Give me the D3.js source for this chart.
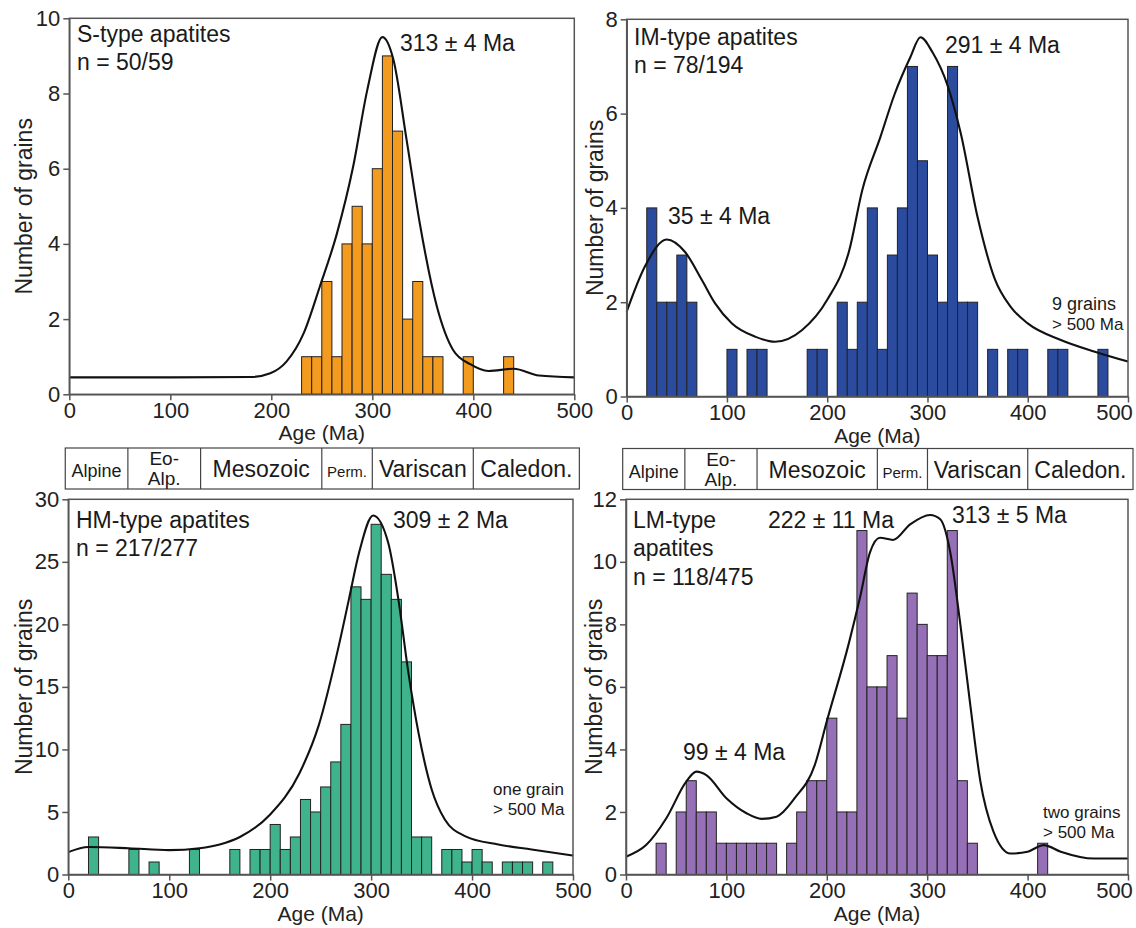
<!DOCTYPE html>
<meta charset="utf-8">
<style>
  body { margin: 0; background: #fff; }
  svg { font-family: "Liberation Sans", Arial, sans-serif; }
  .axis path, .axis line { stroke: #555; stroke-width: 1.5; }
  .axis text { fill: #222; font-size: 22px; font-family: "Liberation Sans", Arial, sans-serif; }
  .frame { fill: none; stroke: #555; stroke-width: 1.5; }
  .bars rect { stroke: #222; stroke-width: 1; }
  .kde { fill: none; stroke: #111; stroke-width: 2.1; }
  .periods rect { fill: none; stroke: #444; stroke-width: 1.2; }
  .periods line { stroke: #444; stroke-width: 1.2; }
</style>
<script src="https://cdn.jsdelivr.net/npm/d3@7/dist/d3.min.js"></script>
<body>
<script>

const width = 1136;
const height = 928;

// histogram bins (start of 10 Ma bin) and number of grains
const sBins   = [230, 240, 250, 260, 270, 280, 290, 300, 310, 320, 330, 340, 350, 360, 390, 430];
const sCounts = [1, 1, 3, 1, 4, 5, 4, 6, 9, 7, 2, 3, 1, 1, 1, 1];

const imBins   = [20, 30, 40, 50, 60, 100, 120, 130, 180, 190, 210, 220, 230, 240, 250, 260, 270, 280, 290, 300, 310, 320, 330, 340, 360, 380, 390, 420, 430, 470];
const imCounts = [4, 2, 2, 3, 2, 1, 1, 1, 1, 1, 2, 1, 2, 4, 1, 3, 4, 7, 5, 3, 2, 7, 2, 2, 1, 1, 1, 1, 1, 1];

const hmBins   = [20, 60, 80, 120, 160, 180, 190, 200, 210, 220, 230, 240, 250, 260, 270, 280, 290, 300, 310, 320, 330, 340, 350, 370, 380, 390, 400, 410, 430, 440, 450, 470];
const hmCounts = [3, 2, 1, 2, 2, 2, 2, 4, 2, 3, 6, 5, 7, 9, 12, 23, 22, 28, 24, 22, 17, 3, 3, 2, 2, 1, 2, 1, 1, 1, 1, 1];

const lmBins   = [30, 50, 60, 70, 80, 90, 100, 110, 120, 130, 140, 160, 170, 180, 190, 200, 210, 220, 230, 240, 250, 260, 270, 280, 290, 300, 310, 320, 330, 340, 410];
const lmCounts = [1, 2, 3, 2, 2, 1, 1, 1, 1, 1, 1, 1, 2, 3, 3, 5, 2, 2, 11, 6, 6, 7, 5, 9, 8, 7, 7, 11, 3, 1, 1];

// density curves: [age, grains]
const sCurve = [[0, 0.45], [100, 0.45], [180, 0.46], [199, 0.56], [215, 0.87], [232, 1.62], [248, 2.86], [265, 4.28],
  [281, 6.05], [295, 8.09], [310, 9.5], [321, 8.89], [334, 6.76], [347, 4.55], [364, 2.33], [380, 1.18], [397, 0.8],
  [415, 0.62], [440, 0.68], [465, 0.5], [500, 0.45]];

const imCurve = [[0, 1.8], [18, 2.75], [40, 3.33], [58, 3.07], [75, 2.47], [88, 1.98], [105, 1.55], [128, 1.27], [148, 1.16],
  [175, 1.41], [200, 2.05], [222, 3.1], [235, 4.38], [253, 5.5], [267, 6.4], [283, 7.2], [293, 7.62], [305, 7.3],
  [320, 6.6], [333, 5.6], [350, 3.8], [367, 2.5], [383, 1.9], [400, 1.55], [433, 1.2], [467, 0.95], [500, 0.74]];

const hmCurve = [[0, 1.79], [20, 2.2], [60, 2.1], [100, 1.95], [130, 2.1], [150, 2.4], [170, 3.0], [200, 4.8], [229, 8.1],
  [248, 11.9], [268, 18.3], [278, 22], [288, 25.7], [302, 28.7], [317, 26.5], [327, 22], [337, 16.1], [347, 11.3],
  [360, 6.8], [373, 4.4], [393, 3.07], [426, 2.4], [459, 2.0], [500, 1.52]];

const lmCurve = [[0, 0.57], [20, 0.94], [40, 1.79], [60, 2.97], [70, 3.29], [80, 3.18], [100, 2.44], [120, 1.96], [135, 1.78],
  [150, 1.85], [168, 2.44], [188, 3.5], [200, 4.9], [222, 7.4], [233, 8.85], [243, 10.3], [253, 10.77], [266, 10.7],
  [283, 11.2], [303, 11.5], [313, 11.36], [323, 10.3], [333, 8.0], [343, 5.4], [353, 2.97], [366, 1.37], [383, 0.67],
  [400, 0.73], [416, 0.94], [433, 0.73], [466, 0.51], [500, 0.51]];

const xTicks = [0, 100, 200, 300, 400, 500];

// orogenic periods, boundaries in Ma
const periodNames = ["Alpine", "Eo-Alp.", "Mesozoic", "Perm.", "Variscan", "Caledon."];
const periodEdges = [-4, 58, 130, 250, 300, 400, 505];

const panels = [
  { bins: sBins, counts: sCounts, curve: sCurve, color: "#F39B1E", yMax: 10, yStep: 2,
    left: 69.3, right: 574.3, top: 18.3, bottom: 394.3, ylabX: 26, periodsY: 448,
    texts: [
      { t: "S-type apatites", x: 77, y: 42, s: 23 },
      { t: "n = 50/59", x: 77, y: 70, s: 23 },
      { t: "313 \u00b1 4 Ma", x: 400, y: 51, s: 23 }
    ] },
  { bins: imBins, counts: imCounts, curve: imCurve, color: "#2B4C9E", yMax: 8, yStep: 2,
    left: 626.7, right: 1128, top: 19.3, bottom: 396.5, ylabX: 597, periodsY: 448.5, edgeShift: 14,
    texts: [
      { t: "IM-type apatites", x: 634, y: 45, s: 23 },
      { t: "n = 78/194", x: 634, y: 73, s: 23 },
      { t: "291 \u00b1 4 Ma", x: 945, y: 53, s: 23 },
      { t: "35 \u00b1 4 Ma", x: 668, y: 224, s: 23 },
      { t: "9 grains", x: 1052, y: 310, s: 18 },
      { t: "> 500 Ma", x: 1052, y: 330, s: 17 }
    ] },
  { bins: hmBins, counts: hmCounts, curve: hmCurve, color: "#3FB48C", yMax: 30, yStep: 5,
    left: 68.3, right: 573, top: 499.3, bottom: 874.5, ylabX: 26,
    texts: [
      { t: "HM-type apatites", x: 76, y: 528, s: 23 },
      { t: "n = 217/277", x: 76, y: 556, s: 23 },
      { t: "309 \u00b1 2 Ma", x: 393, y: 528, s: 23 },
      { t: "one grain", x: 493, y: 795, s: 17 },
      { t: "> 500 Ma", x: 493, y: 815, s: 17 }
    ] },
  { bins: lmBins, counts: lmCounts, curve: lmCurve, color: "#9670B6", yMax: 12, yStep: 2,
    left: 626, right: 1128, top: 499.3, bottom: 874.5, ylabX: 596, edgeShift: 14,
    texts: [
      { t: "LM-type", x: 633, y: 528, s: 23 },
      { t: "apatites", x: 633, y: 556, s: 23 },
      { t: "n = 118/475", x: 633, y: 585, s: 23 },
      { t: "222 \u00b1 11 Ma", x: 768, y: 528, s: 23 },
      { t: "313 \u00b1 5 Ma", x: 952, y: 523, s: 23 },
      { t: "99 \u00b1 4 Ma", x: 683, y: 760, s: 23 },
      { t: "two grains", x: 1043, y: 818, s: 17 },
      { t: "> 500 Ma", x: 1043, y: 838, s: 17 }
    ] }
];

const svg = d3.select("body")
              .append("svg")
              .attr("width", width)
              .attr("height", height);

panels.forEach(p => {
  const x = d3.scaleLinear().domain([0, 500]).range([p.left, p.right]);
  const y = d3.scaleLinear().domain([0, p.yMax]).range([p.bottom, p.top]);
  const g = svg.append("g");

  const bars = p.bins.map((b, i) => ({ start: b, count: p.counts[i] }));
  g.append("g")
   .attr("class", "bars")
   .selectAll("rect")
   .data(bars)
   .enter().append("rect")
   .attr("x", d => x(d.start))
   .attr("width", d => x(d.start + 10) - x(d.start))
   .attr("y", d => y(d.count))
   .attr("height", d => y(0) - y(d.count))
   .attr("fill", p.color);

  const line = d3.line()
                 .x(d => x(d[0]))
                 .y(d => y(d[1]))
                 .curve(d3.curveMonotoneX);
  g.append("path")
   .attr("class", "kde")
   .attr("d", line(p.curve));

  g.append("rect")
   .attr("class", "frame")
   .attr("x", p.left)
   .attr("y", p.top)
   .attr("width", p.right - p.left)
   .attr("height", p.bottom - p.top);

  g.append("g")
   .attr("class", "axis")
   .attr("transform", `translate(${p.left},0)`)
   .call(d3.axisLeft(y).tickValues(d3.range(0, p.yMax + 0.01, p.yStep)).tickSize(6).tickSizeOuter(0).tickPadding(3));

  const xAxis = g.append("g")
   .attr("class", "axis")
   .attr("transform", `translate(0,${p.bottom})`)
   .call(d3.axisBottom(x).tickValues(xTicks).tickSize(6).tickSizeOuter(0).tickPadding(2));
  // last label sits against the page edge on the right-hand panels
  if (p.edgeShift) {
    xAxis.selectAll(".tick text").filter(d => d === 500).attr("dx", -p.edgeShift);
  }

  g.append("text")
   .attr("transform", `translate(${p.ylabX},${(p.top + p.bottom) / 2}) rotate(-90)`)
   .attr("text-anchor", "middle")
   .attr("dominant-baseline", "middle")
   .style("font-size", "23px")
   .attr("fill", "#222")
   .text("Number of grains");

  g.append("text")
   .attr("x", (p.left + p.right) / 2)
   .attr("y", p.bottom + 46)
   .attr("text-anchor", "middle")
   .style("font-size", "21px")
   .attr("fill", "#222")
   .text("Age (Ma)");

  g.selectAll("text.note")
   .data(p.texts)
   .enter().append("text")
   .attr("class", "note")
   .attr("x", d => d.x)
   .attr("y", d => d.y)
   .style("font-size", d => d.s + "px")
   .attr("fill", "#1a1a1a")
   .text(d => d.t);

  if (p.periodsY !== undefined) {
    const pg = g.append("g").attr("class", "periods");
    const h = 41;
    pg.append("rect")
      .attr("x", x(periodEdges[0]))
      .attr("y", p.periodsY)
      .attr("width", x(periodEdges[periodEdges.length - 1]) - x(periodEdges[0]))
      .attr("height", h);
    pg.selectAll("line")
      .data(periodEdges.slice(1, -1))
      .enter().append("line")
      .attr("x1", d => x(d)).attr("x2", d => x(d))
      .attr("y1", p.periodsY).attr("y2", p.periodsY + h);
    const sizes = [18, 19, 23, 15, 23, 23];
    periodNames.forEach((name, i) => {
      const cx = (x(periodEdges[i]) + x(periodEdges[i + 1])) / 2;
      if (name === "Eo-Alp.") {
        pg.append("text").attr("x", cx).attr("y", p.periodsY + 17).attr("text-anchor", "middle")
          .style("font-size", sizes[i] + "px").attr("fill", "#1a1a1a").text("Eo-");
        pg.append("text").attr("x", cx).attr("y", p.periodsY + 37).attr("text-anchor", "middle")
          .style("font-size", sizes[i] + "px").attr("fill", "#1a1a1a").text("Alp.");
      } else {
        pg.append("text").attr("x", cx).attr("y", p.periodsY + 29).attr("text-anchor", "middle")
          .style("font-size", sizes[i] + "px").attr("fill", "#1a1a1a").text(name);
      }
    });
  }
});
</script>
